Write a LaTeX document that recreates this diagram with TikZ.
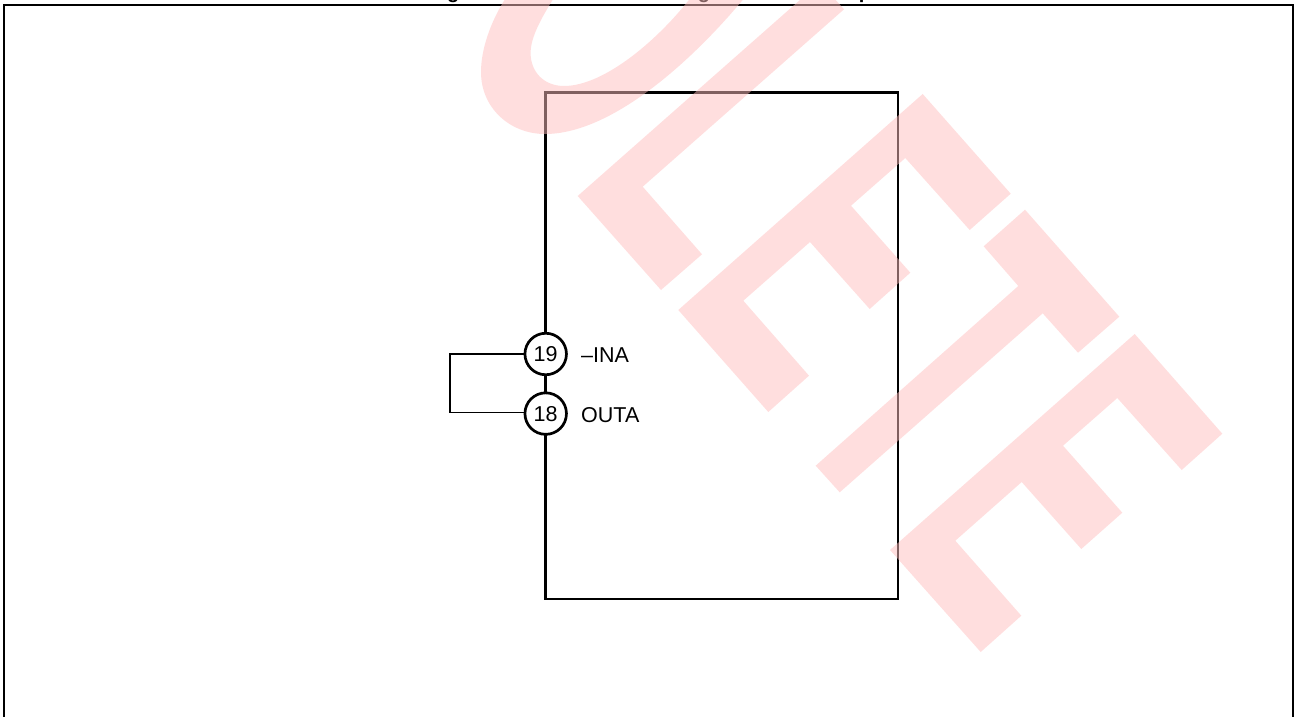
\documentclass[tikz,border=0pt]{standalone}
\usepackage{fontspec}
\setmainfont{Liberation Sans}
\tikzset{
  pinball/.style={circle,draw=black,line width=2.7pt,fill=white,inner sep=0pt,minimum size=41.5pt,font=\fontsize{21.5}{24}\selectfont},
  pinlabel/.style={anchor=base west,inner sep=0pt,font=\fontsize{21.5}{24}\selectfont},
  chipbox/.style={rectangle,draw=black,line width=2.8pt,inner sep=0pt,minimum width=352.3pt,minimum height=506.3pt},
  wire/.style={draw=black,line width=1.1pt},
  frameline/.style={draw=black,line width=2.2pt},
  cuttitle/.style={anchor=base,inner sep=0pt,font=\bfseries\fontsize{20}{24}\selectfont},
  stamp/.style={fill={rgb,255:red,255;green,190;blue,190},fill opacity=0.5,draw=none}
}
\begin{document}
\begin{tikzpicture}[x=1pt,y=-1pt]
\useasboundingbox (0,0) rectangle (1294,717);
\clip (0,0) rectangle (1294,717);
\fill[white] (0,0) rectangle (1294,717);
% clipped heading remnants
\node[cuttitle] (t1) at (453.3,-1.5) {g};
\node[cuttitle] (t2) at (704,-1.5) {g};
\node[cuttitle] (t3) at (865,-1.5) {p};
% frame
\coordinate (fa) at (4.3,730);
\coordinate (fb) at (4.3,5);
\coordinate (fc) at (1293.2,5);
\coordinate (fd) at (1293.2,730);
\draw[frameline] (fa) -- (fb) -- (fc) -- (fd);
% chip
\node[chipbox] (chip) at (721.85,345.85) {};
\node[pinball] (p19) at (545.7,354) {19};
\node[pinball] (p18) at (545.7,413.6) {18};
\node[pinlabel] (l19) at (581,362.8) {–INA};
\node[pinlabel] (l18) at (581,422) {OUTA};
\coordinate (wa) at (450,354);
\coordinate (wb) at (450,412.4);
\draw[wire] (p19.west) -- (wa) -- (wb) -- (p18.west |- wb);
% watermark
\path[stamp] (507,-4) .. controls (490,22) and (481,50) .. (481,72)
  .. controls (481,108) and (510,134) .. (545,134)
  .. controls (610,134) and (690,64) .. (746,-4)
  -- (692,-4)
  .. controls (660,38) and (605,86) .. (564,86)
  .. controls (544,86) and (530.6,72) .. (530.6,53)
  .. controls (530.6,38) and (540,20) .. (555,-4) -- cycle;
\path[stamp] (577.7,196) -- (661,290) -- (702,254.3) -- (642.7,186.7) -- (844,9.3) -- (820,-17.7) -- cycle;
\path[stamp] (678.3,310) -- (768.3,412) -- (809,375.7) -- (743.3,300.7) -- (810,242) -- (869.7,309) -- (910.3,272.7) -- (851,205.7) -- (905.3,158) -- (969.7,230) -- (1010.7,193.7) -- (922.7,94) -- cycle;
\path[stamp] (815.7,465.7) -- (839.7,492.3) -- (1042.7,313.3) -- (1078,352.7) -- (1119.3,316.7) -- (1025,209.7) -- (983.7,246.3) -- (1018.3,286) -- cycle;
\path[stamp] (890,550) -- (980.7,652) -- (1021.3,615.7) -- (955.3,540.7) -- (1021.7,482) -- (1081.3,549) -- (1122.3,512.7) -- (1063,445.7) -- (1117.3,398) -- (1181.7,470) -- (1222.3,433.7) -- (1134.7,334) -- cycle;
\end{tikzpicture}
\end{document}
